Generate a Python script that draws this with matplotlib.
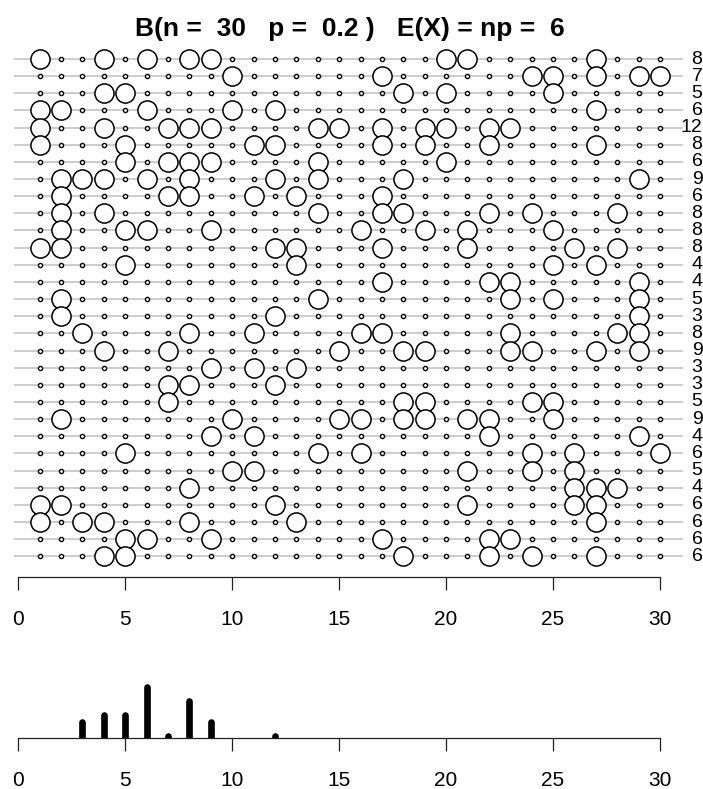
import matplotlib
matplotlib.use('Agg')
import matplotlib.pyplot as plt
import matplotlib.transforms as mtrans
import numpy as np

plt.rcParams['font.family'] = ['Liberation Sans', 'DejaVu Sans']

n_trials = 30
prob = 0.2
title = "B(n =  30   p =  0.2 )   E(X) = np =  6"

# positions of successes in each of the 30 samples (top row first)
successes = [
    [1, 4, 6, 8, 9, 20, 21, 27],
    [10, 17, 24, 25, 27, 29, 30],
    [4, 5, 18, 20, 25],
    [1, 2, 6, 10, 12, 27],
    [1, 4, 7, 8, 9, 14, 15, 17, 19, 20, 22, 23],
    [1, 5, 11, 12, 17, 19, 22, 27],
    [5, 7, 8, 9, 14, 20],
    [2, 3, 4, 6, 8, 12, 14, 18, 29],
    [2, 7, 8, 11, 13, 17],
    [2, 4, 14, 17, 18, 22, 24, 28],
    [2, 5, 6, 9, 16, 19, 21, 25],
    [1, 2, 12, 13, 17, 21, 26, 28],
    [5, 13, 25, 27],
    [17, 22, 23, 29],
    [2, 14, 23, 25, 29],
    [2, 12, 29],
    [3, 8, 11, 16, 17, 23, 28, 29],
    [4, 7, 15, 18, 19, 23, 24, 27, 29],
    [9, 11, 13],
    [7, 8, 12],
    [7, 18, 19, 24, 25],
    [2, 10, 15, 16, 18, 19, 21, 22, 25],
    [9, 11, 22, 29],
    [5, 14, 16, 24, 26, 30],
    [10, 11, 21, 24, 26],
    [8, 26, 27, 28],
    [1, 2, 12, 21, 26, 27],
    [1, 3, 4, 8, 13, 27],
    [5, 6, 9, 17, 22, 23],
    [4, 5, 18, 22, 24, 27],
]
row_counts = [len(s) for s in successes]
count_values = np.arange(0, n_trials + 1)
count_freq = np.bincount(row_counts, minlength=n_trials + 1)

W, H = 703, 789
fig = plt.figure(figsize=(W / 100, H / 100), dpi=100)

x0_px, unit_px = 18.3, 21.39


def px_axes(top, bottom, left=2, right=700):
    ax = fig.add_axes([left / W, 1 - bottom / H, (right - left) / W, (bottom - top) / H])
    ax.set_xlim((left - x0_px) / unit_px, (right - x0_px) / unit_px)
    return ax


def style_axis(ax, pad):
    for s in ['top', 'left', 'right']:
        ax.spines[s].set_visible(False)
    ax.spines['bottom'].set_bounds(0, 30)
    ax.spines['bottom'].set_linewidth(0.9)
    ax.spines['bottom'].set_color('#222222')
    ax.set_xticks(range(0, 31, 5))
    ax.set_yticks([])
    ax.tick_params(axis='x', length=9.7, width=0.9, color='#222222', pad=pad,
                   labelsize=15, labelcolor='black')
    ax.patch.set_visible(False)


# ---- top panel ----
row_spacing = 17.15
top_px, bot_px = 45, 576.7
ax = px_axes(top_px, bot_px)
ax.set_ylim(1 + (bot_px - 59) / row_spacing, 1 + (top_px - 59) / row_spacing)
style_axis(ax, pad=14.5)

positions = np.arange(1, n_trials + 1)
rows = np.arange(1, len(successes) + 1)
ax.hlines(rows, -0.2, 31.07, color='#BEBEBE', lw=1.1, zorder=1, clip_on=False)
trans_lab = mtrans.blended_transform_factory(fig.transFigure, ax.transData)
for r, s in zip(rows, successes):
    fails = [k for k in positions if k not in s]
    ax.plot(fails, [r] * len(fails), 'o', ms=3.0, mfc='white', mec='black', mew=1.0,
            ls='none', zorder=2 + r * 0.01, clip_on=False)
    ax.plot(s, [r] * len(s), 'o', ms=13.8, mfc='white', mec='black', mew=1.1,
            ls='none', zorder=3 + r * 0.01, clip_on=False)
    ax.text(702.5 / W, r, str(len(s)), transform=trans_lab, ha='right', va='center',
            fontsize=14)

# ---- bottom panel ----
b_top, b_bot = 660, 737.7
ax2 = px_axes(b_top, b_bot)
base_px, h_px = 742.5, 6.89
ax2.set_ylim((base_px - b_bot) / h_px, (base_px - b_top) / h_px)
style_axis(ax2, pad=14.5)
bars = ax2.vlines(count_values[count_freq > 0], 0, count_freq[count_freq > 0],
                  color='black', lw=4.8)
bars.set_capstyle('round')

fig.text(350 / W, 1 - 29 / H, title, ha='center', va='center', fontsize=19,
         fontweight='bold')

fig.savefig('out.png', dpi=100)
